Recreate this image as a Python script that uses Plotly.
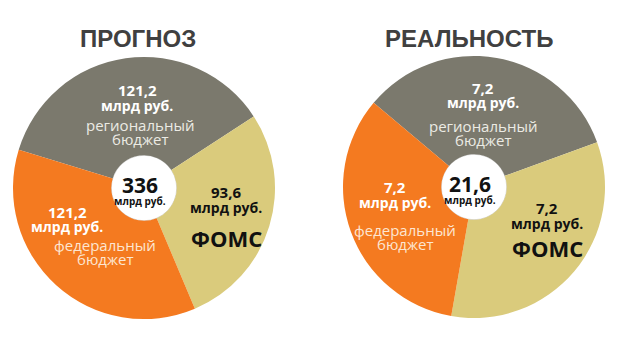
import plotly.graph_objects as go

# ---- data ----
categories = ["региональный бюджет", "ФОМС", "федеральный бюджет"]
forecast_values = [121.2, 93.6, 121.2]
reality_values = [7.2, 7.2, 7.2]
titles = ["ПРОГНОЗ", "РЕАЛЬНОСТЬ"]
unit = "млрд руб."

colors = ["#7b796d", "#dacb7c", "#f47a20"]

W, H = 620, 348


def px(x):
    return x / W


def py(y):
    return 1 - y / H


def fmt(v):
    return f"{round(v, 2):g}".replace(".", ",")


fig = go.Figure()

pies = [
    dict(vals=forecast_values, cx=144, cy=188, r=131, rot=287, title_x=138),
    dict(vals=reality_values, cx=474, cy=187, r=131, rot=310, title_x=469),
]

for p in pies:
    fig.add_trace(go.Pie(
        labels=categories, values=p["vals"], sort=False, direction="clockwise",
        rotation=p["rot"], hole=0.25, textinfo="none", hoverinfo="label+value",
        marker=dict(colors=colors, line=dict(width=0)), showlegend=False,
        domain=dict(x=[px(p["cx"] - p["r"]), px(p["cx"] + p["r"])],
                    y=[py(p["cy"] + p["r"]), py(p["cy"] - p["r"])]),
    ))

annotations = []


def ann(text, x, y, size, color, bold=False, family="Open Sans"):
    annotations.append(dict(
        text=f"<b>{text}</b>" if bold else text, x=px(x), y=py(y),
        xref="paper", yref="paper", showarrow=False, xanchor="center", yanchor="middle",
        font=dict(size=size, color=color, family=family)))


# titles
for t, p in zip(titles, pies):
    ann(t, p["title_x"], 38, 24, "#404040", bold=True, family="Liberation Sans")

# label positions (pixels): [regional, foms, federal]
label_pos = [
    [(137, 90, 140, 125), (226, 192, 226, 238), (67, 212, 105, 245)],
    [(483, 88, 483, 126), (547, 208, 547, 248), (395, 187, 405, 230)],
]
name_colors = ["#ecebe4", "#111111", "#fde6d2"]
num_colors = ["#ffffff", "#111111", "#ffffff"]

for p, poss in zip(pies, label_pos):
    for i, (cat, v) in enumerate(zip(categories, p["vals"])):
        x1, y1, x2, y2 = poss[i]
        ann(fmt(v), x1, y1, 15, num_colors[i], bold=True)
        ann(unit, x1, y1 + 15, 14, num_colors[i], bold=True)
        if cat == "ФОМС":
            ann(cat, x2, y2, 22, "#111111", bold=True)
        else:
            w = cat.split(" ")
            ann(w[0], x2, y2, 15, name_colors[i])
            ann(w[1], x2, y2 + 14, 15, name_colors[i])
    # center total
    ann(fmt(sum(p["vals"])), p["cx"] - 4, p["cy"] - 3, 21, "#111111", bold=True)
    ann(unit, p["cx"] - 4, p["cy"] + 13, 10, "#111111", bold=True)

shapes = []
for p in pies:
    hr = p["r"] * 0.25
    shapes.append(dict(type="circle", xref="paper", yref="paper",
                       x0=px(p["cx"] - hr), x1=px(p["cx"] + hr),
                       y0=py(p["cy"] + hr), y1=py(p["cy"] - hr),
                       line=dict(color="#d8d8d8", width=1), fillcolor="white", layer="below"))

fig.update_layout(
    width=W, height=H, margin=dict(l=0, r=0, t=0, b=0),
    paper_bgcolor="white", plot_bgcolor="white",
    annotations=annotations, shapes=shapes,
)

fig.write_html("out.html")
